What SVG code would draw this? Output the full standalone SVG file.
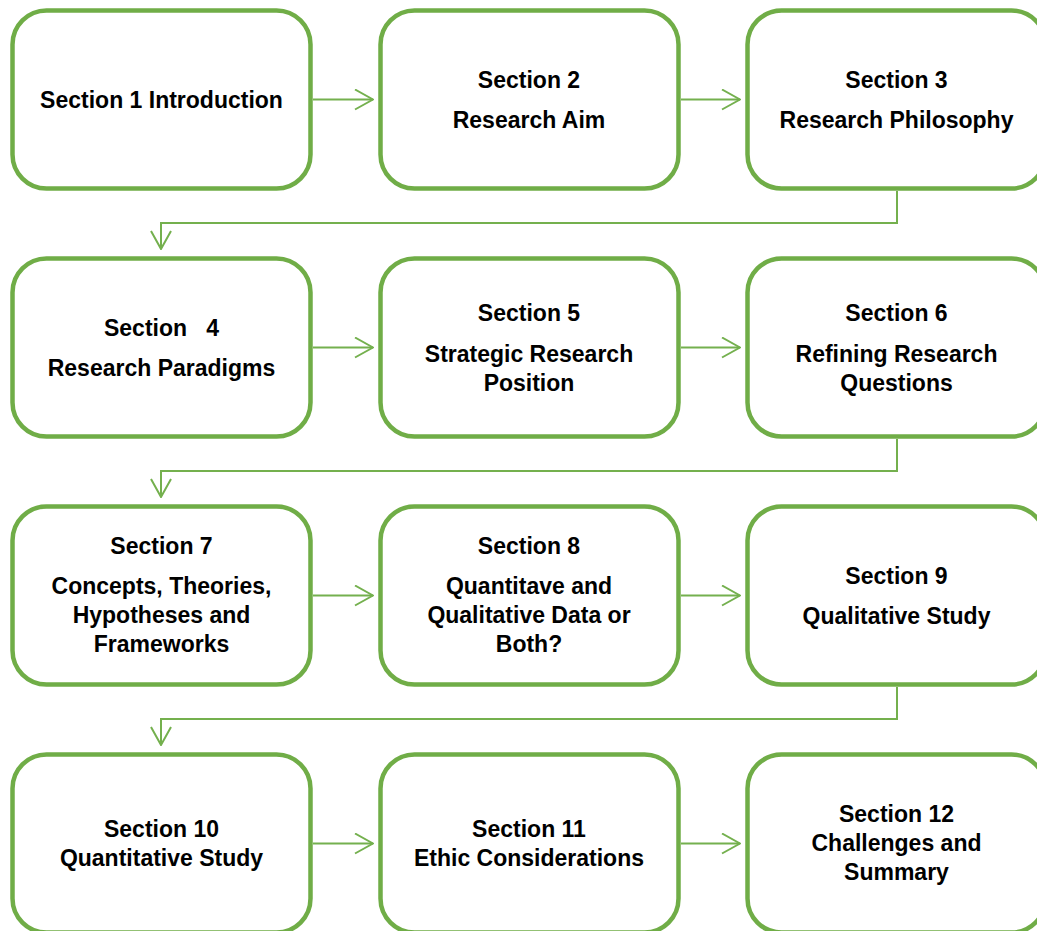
<svg xmlns="http://www.w3.org/2000/svg" width="1037" height="931" viewBox="0 0 1037 931">
  <style>
    .box { fill: #ffffff; stroke: #70AD47; stroke-width: 4.5; }
    .lbl { font-family: "Liberation Sans", Arial, sans-serif; font-weight: bold; font-size: 23px; fill: #000000; text-anchor: middle; white-space: pre; }
    .conn { fill: none; stroke: #74B04E; stroke-width: 2; }
  </style>
  <defs>
    <marker id="chev" viewBox="0 0 20 22" refX="19" refY="11" markerWidth="20" markerHeight="22" markerUnits="userSpaceOnUse" orient="auto">
      <path d="M1,1 L19,11 L1,21" fill="none" stroke="#74B04E" stroke-width="2"/>
    </marker>
  </defs>
  <rect width="1037" height="931" fill="#ffffff"/>

  <!-- connectors -->
  <g id="connectors">
    <line class="conn" x1="313" y1="99.5" x2="373" y2="99.5" marker-end="url(#chev)"/>
    <line class="conn" x1="681" y1="99.5" x2="740" y2="99.5" marker-end="url(#chev)"/>
    <polyline class="conn" points="897,191 897,223 161,223 161,249" marker-end="url(#chev)"/>

    <line class="conn" x1="313" y1="347.5" x2="373" y2="347.5" marker-end="url(#chev)"/>
    <line class="conn" x1="681" y1="347.5" x2="740" y2="347.5" marker-end="url(#chev)"/>
    <polyline class="conn" points="897,439 897,471 161,471 161,497" marker-end="url(#chev)"/>

    <line class="conn" x1="313" y1="595.5" x2="373" y2="595.5" marker-end="url(#chev)"/>
    <line class="conn" x1="681" y1="595.5" x2="740" y2="595.5" marker-end="url(#chev)"/>
    <polyline class="conn" points="897,687 897,719 161,719 161,745" marker-end="url(#chev)"/>

    <line class="conn" x1="313" y1="843.5" x2="373" y2="843.5" marker-end="url(#chev)"/>
    <line class="conn" x1="681" y1="843.5" x2="740" y2="843.5" marker-end="url(#chev)"/>
  </g>

  <!-- row 1 -->
  <g id="node1">
    <rect class="box" x="12.5" y="10.5" width="298" height="178" rx="34"/>
    <text class="lbl" x="161.5" y="107.5">Section 1 Introduction</text>
  </g>
  <g id="node2">
    <rect class="box" x="380.5" y="10.5" width="298" height="178" rx="34"/>
    <text class="lbl" x="529" y="87.5">Section 2</text>
    <text class="lbl" x="529" y="127.5">Research Aim</text>
  </g>
  <g id="node3">
    <rect class="box" x="747.5" y="10.5" width="298" height="178" rx="34"/>
    <text class="lbl" x="896.5" y="87.5">Section 3</text>
    <text class="lbl" x="896.5" y="127.5">Research Philosophy</text>
  </g>

  <!-- row 2 -->
  <g id="node4">
    <rect class="box" x="12.5" y="258.5" width="298" height="178" rx="34"/>
    <text class="lbl" x="161.5" y="335.5">Section   4</text>
    <text class="lbl" x="161.5" y="375.5">Research Paradigms</text>
  </g>
  <g id="node5">
    <rect class="box" x="380.5" y="258.5" width="298" height="178" rx="34"/>
    <text class="lbl" x="529" y="320.5">Section 5</text>
    <text class="lbl" x="529" y="361.5">Strategic Research</text>
    <text class="lbl" x="529" y="390.5">Position</text>
  </g>
  <g id="node6">
    <rect class="box" x="747.5" y="258.5" width="298" height="178" rx="34"/>
    <text class="lbl" x="896.5" y="320.5">Section 6</text>
    <text class="lbl" x="896.5" y="361.5">Refining Research</text>
    <text class="lbl" x="896.5" y="390.5">Questions</text>
  </g>

  <!-- row 3 -->
  <g id="node7">
    <rect class="box" x="12.5" y="506.5" width="298" height="178" rx="34"/>
    <text class="lbl" x="161.5" y="553.5">Section 7</text>
    <text class="lbl" x="161.5" y="593.5">Concepts, Theories,</text>
    <text class="lbl" x="161.5" y="622.5">Hypotheses and</text>
    <text class="lbl" x="161.5" y="651.5">Frameworks</text>
  </g>
  <g id="node8">
    <rect class="box" x="380.5" y="506.5" width="298" height="178" rx="34"/>
    <text class="lbl" x="529" y="553.5">Section 8</text>
    <text class="lbl" x="529" y="593.5">Quantitave and</text>
    <text class="lbl" x="529" y="622.5">Qualitative Data or</text>
    <text class="lbl" x="529" y="651.5">Both?</text>
  </g>
  <g id="node9">
    <rect class="box" x="747.5" y="506.5" width="298" height="178" rx="34"/>
    <text class="lbl" x="896.5" y="583.5">Section 9</text>
    <text class="lbl" x="896.5" y="623.5">Qualitative Study</text>
  </g>

  <!-- row 4 -->
  <g id="node10">
    <rect class="box" x="12.5" y="754.5" width="298" height="178" rx="34"/>
    <text class="lbl" x="161.5" y="836.5">Section 10</text>
    <text class="lbl" x="161.5" y="865.5">Quantitative Study</text>
  </g>
  <g id="node11">
    <rect class="box" x="380.5" y="754.5" width="298" height="178" rx="34"/>
    <text class="lbl" x="529" y="836.5">Section 11</text>
    <text class="lbl" x="529" y="865.5">Ethic Considerations</text>
  </g>
  <g id="node12">
    <rect class="box" x="747.5" y="754.5" width="298" height="178" rx="34"/>
    <text class="lbl" x="896.5" y="821.5">Section 12</text>
    <text class="lbl" x="896.5" y="850.5">Challenges and</text>
    <text class="lbl" x="896.5" y="879.5">Summary</text>
  </g>
</svg>
